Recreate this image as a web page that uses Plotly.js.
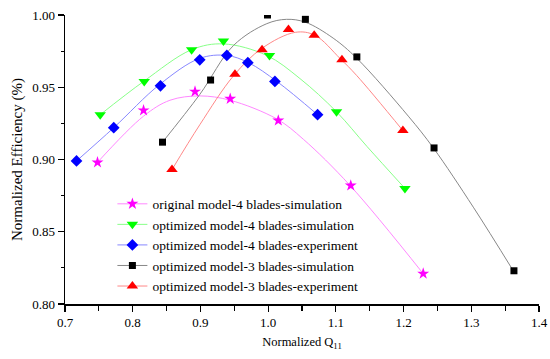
<!DOCTYPE html>
<html><head><meta charset="utf-8">
<script src="https://cdn.plot.ly/plotly-3.0.1.min.js"></script>
<style>html,body{margin:0;padding:0;background:#fff}#chart{width:550px;height:359px}</style>
</head><body><div id="chart"></div>
<script>
// Series names
const names = [
  "original model-4 blades-simulation",
  "optimized model-4 blades-simulation",
  "optimized model-4 blades-experiment",
  "optimized model-3 blades-simulation",
  "optimized model-3 blades-experiment"
];
// Measured / simulated points
const origX = [0.748, 0.816, 0.892, 0.944, 1.015, 1.122, 1.229];
const origY = [0.898, 0.934, 0.947, 0.942, 0.927, 0.882, 0.821];
const opt4SimX = [0.752, 0.817, 0.887, 0.934, 1.002, 1.101, 1.202];
const opt4SimY = [0.931, 0.954, 0.976, 0.982, 0.972, 0.933, 0.880];
const opt4ExpX = [0.717, 0.772, 0.841, 0.899, 0.939, 0.970, 1.010, 1.073];
const opt4ExpY = [0.899, 0.922, 0.951, 0.969, 0.972, 0.967, 0.954, 0.931];
const opt3SimX = [0.844, 0.915, 0.999, 1.055, 1.131, 1.245, 1.363];
const opt3SimY = [0.912, 0.955, 1.000, 0.997, 0.971, 0.908, 0.823];
const opt3ExpX = [0.858, 0.951, 0.991, 1.030, 1.068, 1.109, 1.199];
const opt3ExpY = [0.893, 0.959, 0.976, 0.990, 0.986, 0.969, 0.920];
// Fitted curves
const origFitX = [0.748, 0.816, 0.855, 0.899, 0.944, 1.013, 1.052, 1.121, 1.229];
const origFitY = [0.898, 0.930, 0.941, 0.944, 0.941, 0.928, 0.914, 0.882, 0.821];
const opt4SimFitX = [0.752, 0.816, 0.887, 0.934, 0.998, 1.047, 1.101, 1.146, 1.202];
const opt4SimFitY = [0.931, 0.954, 0.976, 0.980, 0.972, 0.956, 0.933, 0.909, 0.880];
const opt4ExpFitX = [0.717, 0.772, 0.840, 0.899, 0.939, 0.971, 1.013, 1.073];
const opt4ExpFitY = [0.899, 0.922, 0.952, 0.970, 0.972, 0.967, 0.954, 0.931];
const opt3SimFitX = [0.844, 0.899, 0.949, 0.998, 1.027, 1.055, 1.096, 1.131, 1.207, 1.244, 1.303, 1.362];
const opt3SimFitY = [0.912, 0.945, 0.979, 0.994, 0.997, 0.995, 0.984, 0.970, 0.930, 0.908, 0.867, 0.823];
const opt3ExpFitX = [0.858, 0.899, 0.949, 0.991, 1.040, 1.069, 1.106, 1.131, 1.199];
const opt3ExpFitY = [0.893, 0.924, 0.958, 0.977, 0.988, 0.986, 0.970, 0.958, 0.920];

const markerColors = ["#ff00ff", "#00ff00", "#0000ff", "#000000", "#ff0000"];
const lineColors = ["#ff88ff", "#88ff88", "#8888ff", "#888888", "#ff8888"];
const symbols = ["star", "triangle-down", "diamond", "square", "triangle-up"];
const sizes = [9, 10, 9, 7, 10];

const pts = [[origX, origY], [opt4SimX, opt4SimY], [opt4ExpX, opt4ExpY], [opt3SimX, opt3SimY], [opt3ExpX, opt3ExpY]];
const fits = [[origFitX, origFitY], [opt4SimFitX, opt4SimFitY], [opt4ExpFitX, opt4ExpFitY], [opt3SimFitX, opt3SimFitY], [opt3ExpFitX, opt3ExpFitY]];

const traces = [];
for (let i = 0; i < 5; i++) {
  traces.push({x: fits[i][0], y: fits[i][1], mode: "lines", line: {color: lineColors[i], width: 1, shape: "spline", smoothing: 1}, showlegend: false, hoverinfo: "skip"});
}
for (let i = 0; i < 5; i++) {
  traces.push({x: pts[i][0], y: pts[i][1], mode: "markers", marker: {color: markerColors[i], symbol: symbols[i], size: sizes[i]}, showlegend: false});
}
for (let i = 0; i < 5; i++) {
  traces.push({x: [null], y: [null], name: names[i], mode: "lines+markers", line: {color: lineColors[i], width: 1}, marker: {color: markerColors[i], symbol: symbols[i], size: sizes[i]}, showlegend: true});
}

const serif = "Liberation Serif, Times New Roman, serif";
const layout = {
  width: 550, height: 359,
  margin: {l: 65, r: 11, t: 15, b: 55},
  paper_bgcolor: "#fff", plot_bgcolor: "#fff",
  font: {family: serif, size: 13, color: "#000"},
  showlegend: true,
  legend: {x: 0.1, xanchor: "left", y: 0.204, yanchor: "middle", bgcolor: "rgba(0,0,0,0)", font: {family: serif, size: 13.5, color: "#000"}, traceorder: "normal"},
  xaxis: {
    range: [0.7, 1.4], dtick: 0.1, tick0: 0.7, tickformat: ".1f",
    showgrid: false, zeroline: false, showline: true, linecolor: "#000", linewidth: 1.5,
    ticks: "outside", ticklen: 6, tickwidth: 1.2, tickcolor: "#000",
    minor: {dtick: 0.05, ticks: "outside", ticklen: 5, tickwidth: 1.2, tickcolor: "#000", showgrid: false},
    tickfont: {family: serif, size: 13, color: "#000"},
    title: {text: "Normalized Q<sub>11</sub>", font: {family: serif, size: 12.5, color: "#000"}, standoff: 8}
  },
  yaxis: {
    range: [0.8, 1.0], dtick: 0.05, tick0: 0.8, tickformat: ".2f",
    showgrid: false, zeroline: false, showline: true, linecolor: "#000", linewidth: 1.5,
    ticks: "outside", ticklen: 6, tickwidth: 1.2, tickcolor: "#000",
    minor: {dtick: 0.025, ticks: "outside", ticklen: 3, tickwidth: 1.2, tickcolor: "#000", showgrid: false},
    tickfont: {family: serif, size: 13, color: "#000"},
    title: {text: "Normalized Efficiency (%)", font: {family: serif, size: 15, color: "#000"}, standoff: 6}
  }
};
Plotly.newPlot("chart", traces, layout, {displayModeBar: false, staticPlot: true});
</script></body></html>
